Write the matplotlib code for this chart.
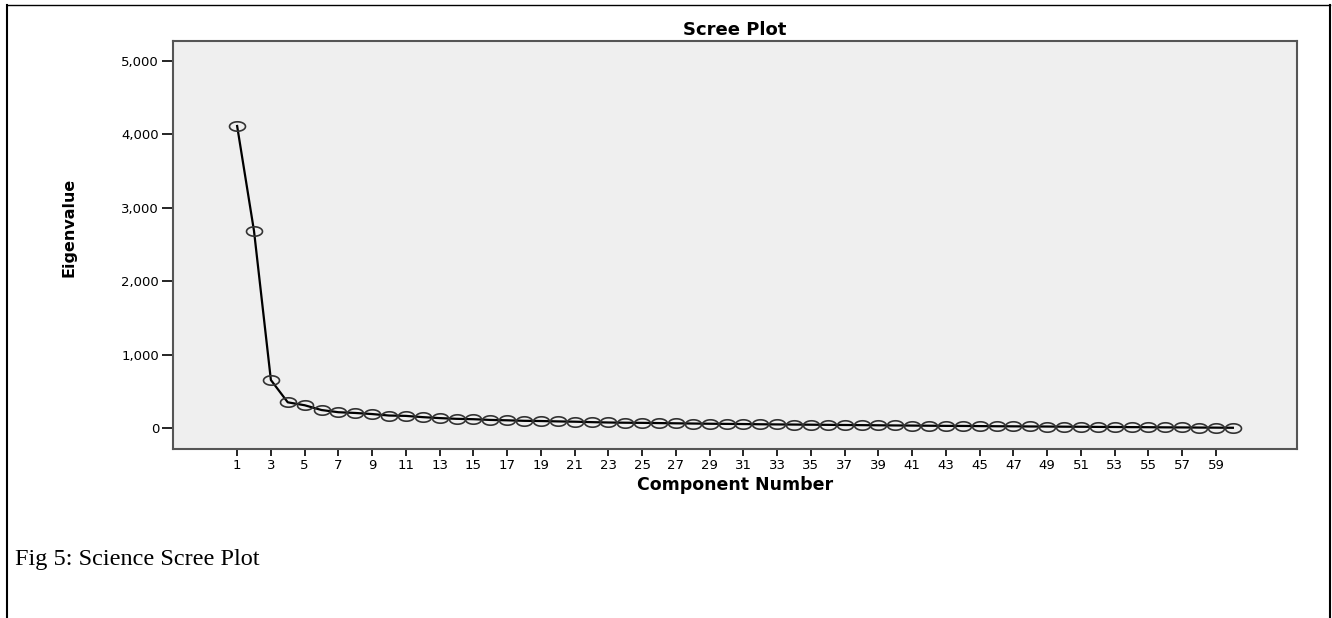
import numpy as np
import matplotlib
matplotlib.use("Agg")
import matplotlib.pyplot as plt
from matplotlib.path import Path
from matplotlib.lines import Line2D

plt.rcParams['font.family'] = ['DejaVu Sans']

# eigenvalues
components = list(range(1, 61))
eigenvalues = [4114, 2684, 654, 350, 310, 245, 215, 205, 190, 170,
               165, 148, 135, 125, 120, 110, 105, 98, 95, 90,
               86, 80, 75, 72, 70, 67, 64, 61, 58, 56,
               54, 51, 49, 47, 45, 43, 41, 39, 37, 35,
               33, 31, 29, 28, 26, 24, 23, 21, 20, 18,
               17, 15, 14, 12, 11, 9, 8, 6, 5, 3]
xticks = list(range(1, 60, 2))
yticks = [0, 1000, 2000, 3000, 4000, 5000]

# flattened circle marker (the original picture is stretched sideways)
t = np.linspace(0, 2 * np.pi, 60)
ellipse = Path(np.column_stack([np.cos(t) * 1.7, np.sin(t)]), closed=True)

fig = plt.figure(figsize=(13.32, 6.18), dpi=100)
ax = fig.add_axes([173 / 1332, 1 - 449 / 618, (1297 - 173) / 1332, (449 - 41) / 618])
ax.set_facecolor('#efefef')

ax.plot(components, eigenvalues, color='black', lw=1.6,
        marker=ellipse, markersize=11.5, markerfacecolor='none',
        markeredgecolor='#333333', markeredgewidth=1.2)

ax.set_xlim(-2.8, 63.8)
ax.set_ylim(-286, 5272)
ax.set_xticks(xticks)
ax.set_xticklabels([str(v) for v in xticks])
ax.set_yticks(yticks)
ax.set_yticklabels([f'{v:,}' for v in yticks])
ax.tick_params(axis='both', direction='out', length=8, width=1.2, labelsize=9.5,
               colors='black', pad=2)
ax.tick_params(axis='x', length=5)
for s in ax.spines.values():
    s.set_color('#555555')
    s.set_linewidth(1.5)

ax.set_title('Scree Plot', fontsize=13, fontweight='bold', pad=4)
ax.set_xlabel('Component Number', fontsize=12.5, fontweight='bold', labelpad=3)
ax.set_ylabel('Eigenvalue', fontsize=11.5, fontweight='bold')
ax.yaxis.set_label_coords((77 - 173) / (1297 - 173), (449 - 227) / (449 - 41))

fig.text(15 / 1332, 1 - 565 / 618, 'Fig 5: Science Scree Plot', fontsize=17.5,
         family=['Liberation Serif', 'DejaVu Serif'], va='baseline', ha='left')

# page border lines
fig.add_artist(Line2D([7 / 1332, 7 / 1332], [0, 1 - 5 / 618], color='black', lw=1.5))
fig.add_artist(Line2D([1330 / 1332, 1330 / 1332], [0, 1 - 5 / 618], color='black', lw=1.5))
fig.add_artist(Line2D([7 / 1332, 1330 / 1332], [1 - 5 / 618, 1 - 5 / 618], color='black', lw=1.0))

fig.savefig('out.png', dpi=100)
